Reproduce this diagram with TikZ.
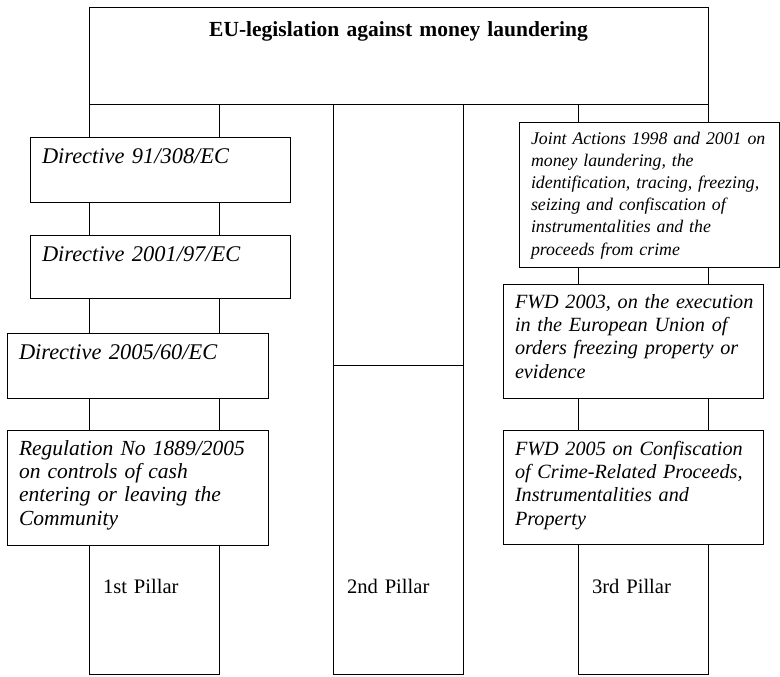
\documentclass[tikz,border=0pt]{standalone}
\usepackage{fontspec}
\setmainfont{Liberation Serif}
\hfuzz=6pt

\begin{document}
\begin{tikzpicture}[x=0.5pt, y=-0.5pt, line width=0.5pt,
title box/.style={draw,anchor=north west,outer sep=0pt,inner sep=0pt,align=center,font=\fontsize{10.75}{13}\selectfont\bfseries},
law box/.style={draw,anchor=north west,outer sep=0pt,inner xsep=6pt,inner ysep=0pt,align=left,text width=118pt,text height=12.5pt,font=\fontsize{10.1}{11.7}\selectfont\itshape},
directive box/.style={law box,text height=13pt,font=\fontsize{11.2}{12.5}\selectfont\itshape},
pillar box/.style={draw,anchor=north west,outer sep=0pt,inner xsep=7pt,inner ysep=0pt,align=left,text width=51pt,text depth=40.5pt,font=\fontsize{10.3}{11.7}\selectfont}]
\useasboundingbox (0,0) rectangle (780,676);
\begin{scope}
\node[title box, text width=309.5pt, text height=14.5pt, text depth=34pt] (eu) at (89,7) {EU-legislation against money laundering};
% 1st pillar
\node[directive box, text depth=19.5pt] (d91) at (30,137) {Directive 91/308/EC};
\node[directive box, text depth=18.5pt] (d01) at (30,235) {Directive 2001/97/EC};
\node[directive box, text width=118.5pt, text depth=19.5pt] (d05) at (7,333) {Directive 2005/60/EC};
\node[law box, text width=118.5pt, text depth=45pt, font=\fontsize{10.75}{11.7}\selectfont\itshape] (reg) at (7,430) {Regulation No 1889/2005\\on controls of cash\\entering or leaving the\\Community};
\node[pillar box, text height=24pt] (p1) at (89,545) {1st Pillar};
% 2nd pillar
\node[pillar box, text height=90pt] (p2top) at (333,104) {};
\node[pillar box, text height=114pt] (p2) at (333,365) {2nd Pillar};
% 3rd pillar
\node[law box, text height=11pt, text depth=61.5pt, font=\fontsize{8.9}{11.1}\selectfont\itshape] (ja) at (519,122) {\mbox{Joint Actions 1998 and 2001 on}\\money laundering, the\\\mbox{identification, tracing, freezing,}\\seizing and confiscation of\\instrumentalities and the\\proceeds from crime};
\node[law box, text height=12pt, text depth=45pt] (fwd03) at (503,284) {\mbox{FWD 2003, on the execution}\\in the European Union of\\orders freezing property or\\evidence};
\node[law box, text depth=44.5pt] (fwd05) at (503,430) {\mbox{FWD 2005 on Confiscation}\\\mbox{of Crime-Related Proceeds,}\\Instrumentalities and\\Property};
\node[pillar box, text height=24.5pt] (p3) at (578,544) {3rd Pillar};
\end{scope}
\begin{scope}
\foreach \a/\b in {eu/d91, d91/d01, d01/d05, d05/reg} {
  \draw (\a.south -| p1.west) -- (\b.north -| p1.west);
  \draw (\a.south -| p1.east) -- (\b.north -| p1.east);
}
\foreach \a/\b in {eu/ja, ja/fwd03, fwd03/fwd05} {
  \draw (\a.south -| p3.west) -- (\b.north -| p3.west);
  \draw (\a.south -| p3.east) -- (\b.north -| p3.east);
}
\end{scope}
\end{tikzpicture}
\end{document}
